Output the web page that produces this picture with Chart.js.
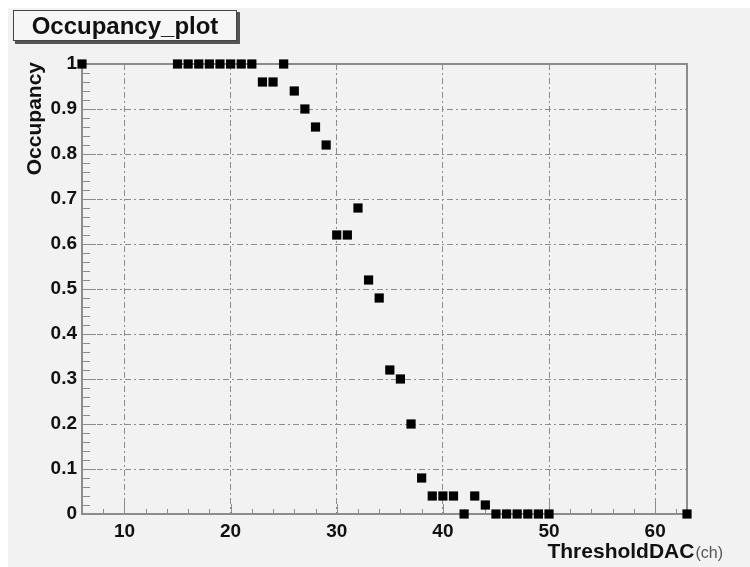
<!DOCTYPE html>
<html>
<head>
<meta charset="utf-8">
<script src="https://cdn.jsdelivr.net/npm/chart.js@4.4.1/dist/chart.umd.min.js"></script>
<style>
  body { margin: 0; background: #fff; }
  #wrap { width: 750px; height: 567px; }
</style>
</head>
<body>
<div id="wrap"><canvas id="c" width="750" height="567"></canvas></div>
<script>
// threshold scan: DAC setting vs. measured occupancy
const thresholds = [6, 15, 16, 17, 18, 19, 20, 21, 22, 23, 24, 25, 26, 27, 28, 29,
  30, 31, 32, 33, 34, 35, 36, 37, 38, 39, 40, 41, 42, 43, 44, 45, 46, 47, 48, 49, 50, 63];
const occupancy = [1, 1, 1, 1, 1, 1, 1, 1, 1, 0.96, 0.96, 1, 0.94, 0.90, 0.86, 0.82,
  0.62, 0.62, 0.68, 0.52, 0.48, 0.32, 0.30, 0.20, 0.08, 0.04, 0.04, 0.04, 0, 0.04, 0.02, 0, 0, 0, 0, 0, 0, 0];

const xTicks = [10, 20, 30, 40, 50, 60];
const yTicks = [0, 0.1, 0.2, 0.3, 0.4, 0.5, 0.6, 0.7, 0.8, 0.9, 1];
const xRange = [6, 63];
const yRange = [0, 1];

const FONT = '"Liberation Sans", Arial, Helvetica, sans-serif';
const AXIS_GRAY = '#8c8c8c';

// background, frame, minor ticks, title box and axis titles
const rootStyle = {
  id: 'rootStyle',
  beforeDraw(chart) {
    const ctx = chart.ctx;
    ctx.save();
    ctx.fillStyle = '#fff';
    ctx.fillRect(0, 0, chart.width, chart.height);
    ctx.fillStyle = '#f2f2f2';
    ctx.fillRect(8, 8, chart.width - 8, chart.height - 8);
    ctx.restore();
  },
  beforeDatasetsDraw(chart) {
    const ctx = chart.ctx;
    const a = chart.chartArea;
    const xs = chart.scales.x, ys = chart.scales.y;
    ctx.save();
    ctx.strokeStyle = AXIS_GRAY;
    ctx.lineWidth = 2;
    ctx.strokeRect(a.left, a.top, a.right - a.left, a.bottom - a.top);

    ctx.lineWidth = 1;
    ctx.beginPath();
    for (let v = 8; v < xRange[1]; v += 2) {
      const px = Math.round(xs.getPixelForValue(v)) + 0.5;
      const len = v % 10 === 0 ? 10 : 5;
      ctx.moveTo(px, a.bottom);
      ctx.lineTo(px, a.bottom - len);
    }
    for (let i = 1; i < 50; i++) {
      const py = Math.round(ys.getPixelForValue(i * 0.02)) + 0.5;
      const len = i % 5 === 0 ? 14 : 8;
      ctx.moveTo(a.left, py);
      ctx.lineTo(a.left + len, py);
    }
    ctx.stroke();
    ctx.restore();
  },
  afterDraw(chart) {
    const ctx = chart.ctx;
    ctx.save();
    // title box with drop shadow
    ctx.fillStyle = '#555';
    ctx.fillRect(15, 12, 225, 32);
    ctx.fillStyle = '#f6f6f6';
    ctx.fillRect(13, 10, 224, 31);
    ctx.strokeStyle = '#444';
    ctx.lineWidth = 1;
    ctx.strokeRect(13.5, 10.5, 223, 30);
    ctx.fillStyle = '#111';
    ctx.font = 'bold 24px ' + FONT;
    ctx.textAlign = 'center';
    ctx.textBaseline = 'middle';
    ctx.fillText('Occupancy_plot', 125, 27);

    // y title, end-aligned at the top of the frame
    ctx.save();
    ctx.translate(35, 62);
    ctx.rotate(-Math.PI / 2);
    ctx.textAlign = 'right';
    ctx.textBaseline = 'middle';
    ctx.font = 'bold 21px ' + FONT;
    ctx.fillText('Occupancy', 0, 0);
    ctx.restore();

    // x title with unit
    ctx.textBaseline = 'alphabetic';
    ctx.textAlign = 'right';
    ctx.font = '16px ' + FONT;
    ctx.fillStyle = '#555';
    const unit = '(ch)';
    const uw = ctx.measureText(unit).width;
    ctx.fillText(unit, 723, 558);
    ctx.font = 'bold 21px ' + FONT;
    ctx.fillStyle = '#111';
    ctx.fillText('ThresholdDAC', 723 - uw - 1, 558);
    ctx.restore();
  }
};

const points = thresholds.map((x, i) => ({ x: x, y: occupancy[i] }));

new Chart(document.getElementById('c'), {
  type: 'scatter',
  data: {
    datasets: [{
      data: points,
      pointStyle: 'rect',
      pointRadius: 6.5,
      pointHoverRadius: 6.5,
      backgroundColor: '#000',
      borderWidth: 0,
      clip: false
    }]
  },
  options: {
    responsive: false,
    animation: false,
    events: [],
    layout: { padding: { top: 64, right: 63, left: 0, bottom: 0 } },
    plugins: { legend: { display: false }, tooltip: { enabled: false } },
    scales: {
      x: {
        type: 'linear',
        min: xRange[0],
        max: xRange[1],
        afterBuildTicks: s => { s.ticks = xTicks.map(v => ({ value: v })); },
        afterFit: s => { s.height = 53; },
        grid: { color: AXIS_GRAY, lineWidth: 1, drawTicks: false },
        border: { display: true, color: AXIS_GRAY, width: 2, dash: [6, 3, 2, 3] },
        ticks: {
          color: '#111',
          padding: 6,
          maxRotation: 0,
          font: { family: FONT, size: 19, weight: 'bold' },
          callback: v => String(v)
        }
      },
      y: {
        type: 'linear',
        min: yRange[0],
        max: yRange[1],
        afterBuildTicks: s => { s.ticks = yTicks.map(v => ({ value: v })); },
        afterFit: s => { s.width = 82; },
        grid: { color: AXIS_GRAY, lineWidth: 1, drawTicks: false },
        border: { display: true, color: AXIS_GRAY, width: 2, dash: [6, 3, 2, 3] },
        ticks: {
          color: '#111',
          padding: 5,
          font: { family: FONT, size: 19, weight: 'bold' },
          callback: v => String(Math.round(v * 10) / 10)
        }
      }
    }
  },
  plugins: [rootStyle]
});
</script>
</body>
</html>
